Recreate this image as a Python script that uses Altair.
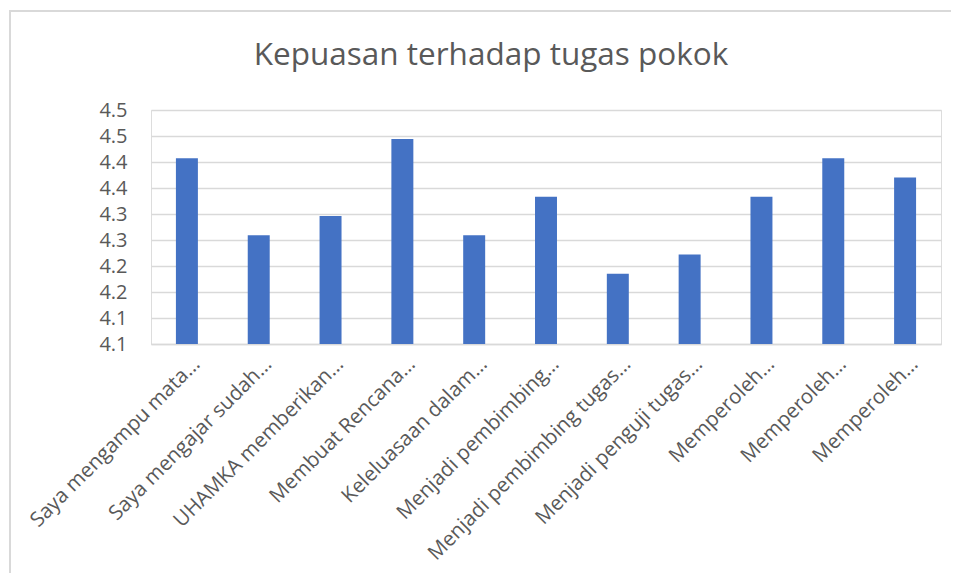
import altair as alt
import pandas as pd

categories = [
    "Saya mengampu mata…",
    "Saya mengajar sudah…",
    "UHAMKA memberikan…",
    "Membuat Rencana…",
    "Keleluasaan dalam…",
    "Menjadi pembimbing…",
    "Menjadi pembimbing tugas…",
    "Menjadi penguji tugas…",
    "Memperoleh…",
    "Memperoleh… ",
    "Memperoleh…  ",
]
values = [4.407, 4.259, 4.296, 4.444, 4.259, 4.333, 4.185, 4.222, 4.333, 4.407, 4.370]
y_ticks = [4.05, 4.10, 4.15, 4.20, 4.25, 4.30, 4.35, 4.40, 4.45, 4.50]
y_tick_labels = ["4.1", "4.1", "4.2", "4.2", "4.3", "4.3", "4.4", "4.4", "4.5", "4.5"]
title_text = "Kepuasan terhadap tugas pokok"

df = pd.DataFrame({"cat": categories, "val": values})

FONT = "Open Sans"
TXT = "#595959"
GRID = "#d9d9d9"

label_expr = "[" + ",".join("'%s'" % s for s in y_tick_labels) + "][indexof([" + \
    ",".join(str(v) for v in y_ticks) + "], datum.value)]"

bars = alt.Chart(df).mark_bar(color="#4472C4", clip=True).encode(
    x=alt.X("cat:N", sort=None,
            scale=alt.Scale(paddingInner=0.694, paddingOuter=0.347),
            axis=alt.Axis(title=None, labelAngle=-45, labelAlign="right",
                          labelBaseline="alphabetic", labelPadding=21, labelOffset=14,
                          ticks=False, tickSize=0, domain=True, domainColor=GRID,
                          domainWidth=1.5, labelFont=FONT, labelFontSize=20.5,
                          labelColor=TXT, labelLimit=400)),
    y=alt.Y("val:Q",
            scale=alt.Scale(domain=[4.05, 4.50], zero=False, nice=False),
            axis=alt.Axis(title=None, values=y_ticks, labelExpr=label_expr,
                          ticks=False, domain=False, grid=True, gridColor=GRID,
                          gridWidth=1.5, labelPadding=24, labelFont=FONT,
                          labelFontSize=20, labelColor=TXT)),
)

frame = alt.Data(values=[{"k": 1}])
top_line = alt.Chart(frame).mark_rule(color=GRID, strokeWidth=2).encode(
    x=alt.value(-142), x2=alt.value(808), y=alt.value(-99))
left_line = alt.Chart(frame).mark_rule(color=GRID, strokeWidth=2).encode(
    x=alt.value(-141), y=alt.value(-99), y2=alt.value(471))
title_mark = alt.Chart(alt.Data(values=[{"t": title_text}])).mark_text(
    font=FONT, fontSize=31.5, color=TXT, align="center", baseline="alphabetic"
).encode(x=alt.value(340), y=alt.value(-45), text="t:N")

chart = alt.layer(bars, top_line, left_line, title_mark).properties(
    width=790, height=234,
    autosize=alt.AutoSizeParams(type="none"),
    padding={"left": 143, "top": 102, "right": 10, "bottom": 229},
).configure_view(stroke=None).configure(background="white")

chart.save("out.html", embed_options={"renderer": "svg", "actions": False})
